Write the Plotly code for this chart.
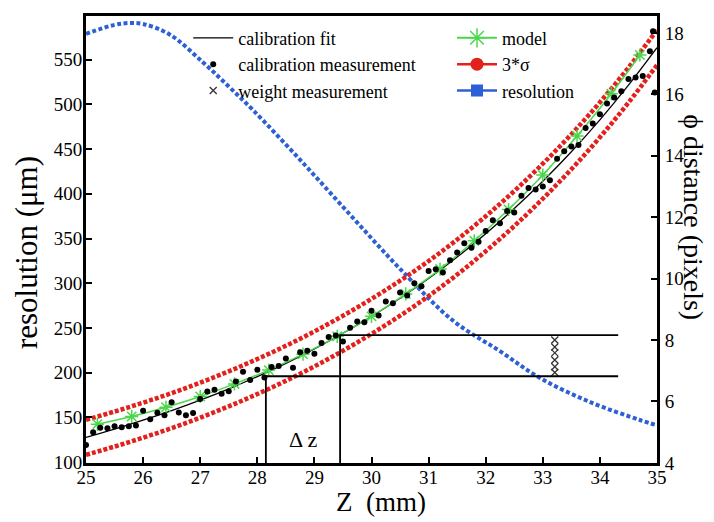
import plotly.graph_objects as go

# ---------------- data ----------------
# smooth curves sampled every 0.5 mm (right axis, phi distance in pixels)
z_curve = [25.0, 25.5, 26.0, 26.5, 27.0, 27.5, 28.0, 28.5, 29.0, 29.5, 30.0,
           30.5, 31.0, 31.5, 32.0, 32.5, 33.0, 33.5, 34.0, 34.5, 35.0]
fit_phi = [4.83, 5.10, 5.39, 5.70, 6.04, 6.41, 6.81, 7.24, 7.71, 8.22, 8.77,
           9.36, 10.00, 10.70, 11.46, 12.28, 13.17, 14.13, 15.17, 16.30, 17.52]
sigma_up = [5.40, 5.67, 5.96, 6.27, 6.61, 6.98, 7.38, 7.81, 8.28, 8.79, 9.34,
            9.93, 10.57, 11.27, 12.03, 12.85, 13.74, 14.70, 15.74, 16.87, 18.09]
sigma_lo = [4.26, 4.53, 4.82, 5.13, 5.47, 5.84, 6.24, 6.67, 7.14, 7.65, 8.20,
            8.79, 9.43, 10.13, 10.89, 11.71, 12.60, 13.56, 14.60, 15.73, 16.95]

# model points (green asterisks)
z_model = [25.2, 25.8, 26.4, 27.0, 27.6, 28.2, 28.8, 29.4, 30.0, 30.6, 31.2,
           31.8, 32.4, 33.0, 33.6, 34.2, 34.7]
model_phi = [5.26, 5.51, 5.81, 6.16, 6.57, 7.02, 7.54, 8.12, 8.77, 9.50, 10.31,
             11.23, 12.25, 13.37, 14.64, 16.02, 17.28]

# calibration measurements (black dots)
z_cal = [25.0, 25.125, 25.25, 25.375, 25.5, 25.625, 25.75, 25.875, 26.0, 26.125,
         26.25, 26.375, 26.5, 26.625, 26.75, 26.875, 27.0, 27.125, 27.25, 27.375,
         27.5, 27.625, 27.75, 27.875, 28.0, 28.125, 28.25, 28.375, 28.5, 28.625,
         28.75, 28.875, 29.0, 29.125, 29.25, 29.375, 29.5, 29.625, 29.75, 29.875,
         30.0, 30.125, 30.25, 30.375, 30.5, 30.625, 30.75, 30.875, 31.0, 31.125,
         31.25, 31.375, 31.5, 31.625, 31.75, 31.875, 32.0, 32.125, 32.25, 32.375,
         32.5, 32.625, 32.75, 32.875, 33.0, 33.125, 33.25, 33.375, 33.5, 33.625,
         33.75, 33.875, 34.0, 34.125, 34.25, 34.375, 34.5, 34.625, 34.75, 34.875,
         34.93, 34.96]
cal_phi = [4.58, 5.00, 5.14, 5.13, 5.19, 5.16, 5.19, 5.22, 5.70, 5.42,
           5.63, 5.55, 5.97, 5.64, 5.55, 5.62, 6.08, 6.32, 6.38, 6.25,
           6.33, 6.65, 6.97, 6.70, 7.03, 6.78, 7.12, 7.15, 7.40, 7.10,
           7.60, 7.65, 7.55, 7.90, 8.10, 8.15, 7.95, 8.40, 8.60, 8.58,
           8.95, 8.80, 9.25, 9.20, 9.55, 9.45, 9.85, 9.75, 10.25, 10.30,
           10.20, 10.60, 10.85, 11.15, 11.00, 11.20, 11.55, 11.90, 11.80, 12.20,
           12.15, 12.70, 12.95, 12.90, 13.00, 13.20, 13.90, 14.15, 14.30, 14.35,
           14.90, 15.05, 15.35, 15.70, 15.90, 16.10, 16.50, 16.55, 16.60, 17.40,
           18.05, 16.06]

# weight measurements (x markers)
z_weight = [33.21, 33.21, 33.21, 33.21, 33.21, 33.21]
weight_phi = [8.00, 7.77, 7.58, 7.35, 7.13, 6.94]

# resolution curve (left axis, micrometres)
z_res = [25.0, 25.5, 25.75, 26.0, 26.47, 27.05, 27.5, 27.92, 28.75, 29.62,
         30.5, 31.43, 32.25, 32.95, 33.83, 34.7, 35.0]
resolution_um = [579, 589, 591, 590, 578, 547, 520, 494, 438, 377,
                 316, 258, 224, 194, 167, 147, 141]

# delta-z construction
dz_left, dz_right = 28.15, 29.45
level_low, level_high = 6.82, 8.16
guide_end = 34.32

# axes
x_range = [25, 35]
y_range = [98.9, 598.9]
y2_range = [3.995, 18.55]
y_ticks = [100, 150, 200, 250, 300, 350, 400, 450, 500, 550]
y2_ticks = [4, 6, 8, 10, 12, 14, 16, 18]
x_ticks = [25, 26, 27, 28, 29, 30, 31, 32, 33, 34, 35]

# ---------------- figure ----------------
FONT = "Liberation Serif"
RED = "#e3201b"
BLUE = "#2d5fd6"
GREEN = "#4cd64c"

fig = go.Figure()

# resolution (left axis)
fig.add_trace(go.Scatter(x=z_res, y=resolution_um, mode="lines", line_shape="spline",
                         line=dict(color=BLUE, width=4, dash="4px,2.5px"),
                         showlegend=False, yaxis="y"))

# 3 sigma band
for arr in (sigma_up, sigma_lo):
    fig.add_trace(go.Scatter(x=z_curve, y=arr, mode="lines", line_shape="spline",
                             line=dict(color=RED, width=4.5, dash="4px,2px"),
                             showlegend=False, yaxis="y2"))

# calibration fit
fig.add_trace(go.Scatter(x=z_curve, y=fit_phi, mode="lines", line_shape="spline",
                         line=dict(color="black", width=1.3),
                         name="calibration fit", legend="legend", yaxis="y2"))

# model
fig.add_trace(go.Scatter(x=z_model, y=model_phi, mode="lines+markers", line_shape="spline",
                         line=dict(color=GREEN, width=1.5),
                         marker=dict(symbol="asterisk-open", size=11, color=GREEN,
                                     line=dict(color=GREEN, width=1.5)),
                         showlegend=False, yaxis="y2"))

# calibration measurement
fig.add_trace(go.Scatter(x=z_cal, y=cal_phi, mode="markers",
                         marker=dict(color="black", size=6),
                         name="calibration measurement", legend="legend", yaxis="y2"))

# weight measurement
fig.add_trace(go.Scatter(x=z_weight, y=weight_phi, mode="markers",
                         marker=dict(symbol="x-thin-open", size=7, color="#333333",
                                     line=dict(color="#333333", width=1.3)),
                         name="weight measurement", legend="legend", yaxis="y2"))

# delta z guides
fig.add_trace(go.Scatter(x=[dz_left, dz_left, guide_end], y=[y2_range[0], level_low, level_low],
                         mode="lines", line=dict(color="black", width=1.8),
                         showlegend=False, yaxis="y2"))
fig.add_trace(go.Scatter(x=[dz_right, dz_right, guide_end], y=[y2_range[0], level_high, level_high],
                         mode="lines", line=dict(color="black", width=1.8),
                         showlegend=False, yaxis="y2"))

# legend proxies for the second legend column
fig.add_trace(go.Scatter(x=[None], y=[None], mode="lines+markers", name="model",
                         line=dict(color=GREEN, width=2),
                         marker=dict(symbol="asterisk-open", size=18, color=GREEN,
                                     line=dict(color=GREEN, width=1.5)),
                         legend="legend2", yaxis="y2"))
fig.add_trace(go.Scatter(x=[None], y=[None], mode="lines+markers", name="3*σ",
                         line=dict(color=RED, width=2.5),
                         marker=dict(symbol="circle", size=13, color=RED),
                         legend="legend2", yaxis="y2"))
fig.add_trace(go.Scatter(x=[None], y=[None], mode="lines+markers", name="resolution",
                         line=dict(color=BLUE, width=2.5),
                         marker=dict(symbol="square", size=12, color=BLUE),
                         legend="legend2", yaxis="y"))

axis_common = dict(showline=True, linewidth=3, linecolor="black", ticks="inside",
                   ticklen=6, tickwidth=2, tickcolor="black", showgrid=False,
                   zeroline=False, tickfont=dict(family=FONT, size=19, color="black"))

# page body has an 8 px margin, so the figure is 8 px smaller than the window
fig.update_layout(
    width=706, height=514,
    margin=dict(l=78, r=57, t=5, b=59),
    paper_bgcolor="white", plot_bgcolor="white",
    font=dict(family=FONT, color="black"),
    xaxis=dict(range=x_range, tickvals=x_ticks, mirror=True, ticklabelstandoff=-5,
               **axis_common),
    yaxis=dict(range=y_range, tickvals=y_ticks, ticklabelstandoff=-3, **axis_common),
    yaxis2=dict(range=y2_range, tickvals=y2_ticks, overlaying="y", side="right",
                ticklabelstandoff=1, **axis_common),
    legend=dict(x=0.179, y=0.992, xanchor="left", yanchor="top", bgcolor="rgba(0,0,0,0)",
                font=dict(family=FONT, size=18, color="black"), tracegroupgap=0,
                itemwidth=40),
    legend2=dict(x=0.641, y=0.992, xanchor="left", yanchor="top", bgcolor="rgba(0,0,0,0)",
                 font=dict(family=FONT, size=18, color="black"), tracegroupgap=0,
                 itemwidth=40),
    annotations=[
        dict(text="Δ z", x=28.8, y=4.77, xref="x", yref="y2", showarrow=False,
             font=dict(family=FONT, size=22, color="black")),
        dict(text="Z  (mm)", x=(381 - 86) / 571, y=-0.05, xref="paper", yref="paper",
             showarrow=False, xanchor="center", yanchor="top",
             font=dict(family=FONT, size=27, color="black")),
        dict(text="resolution (μm)", x=-0.103, y=0.47, xref="paper", yref="paper",
             showarrow=False, textangle=-90, xanchor="center", yanchor="middle",
             font=dict(family=FONT, size=31, color="black")),
        dict(text="ϕ distance (pixels)", x=(694 - 86) / 571, y=0.55, xref="paper",
             yref="paper", showarrow=False, textangle=90, xanchor="center",
             yanchor="middle", font=dict(family=FONT, size=28, color="black")),
    ],
)

fig.write_html("out.html")
